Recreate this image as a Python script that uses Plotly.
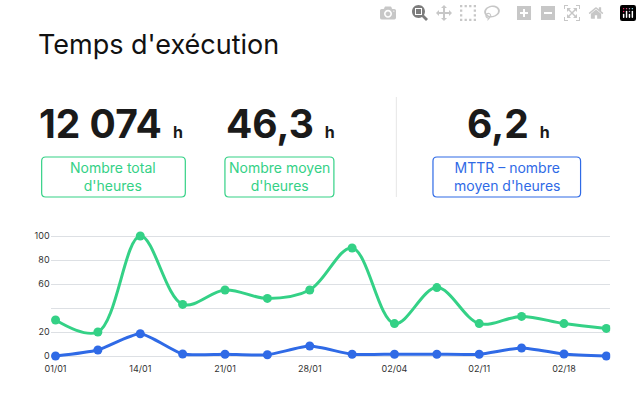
import plotly.graph_objects as go

W, H = 642, 412

points = list(range(14))
tick_pos = [0, 2, 4, 6, 8, 10, 12]
tick_labels = ["01/01", "14/01", "21/01", "28/01", "02/04", "02/11", "02/18"]
total_hours = [30, 20, 100, 43, 55, 48, 55, 90, 27, 57, 27, 33, 27, 23]
mttr_hours = [0, 5, 18.5, 1.7, 1.5, 1, 8.3, 1.5, 1.5, 1.5, 1.5, 6.7, 1.7, 0]
y_ticks = [0, 20, 40, 60, 80, 100]
y_labels = ["0", "20", "", "60", "80", "100"]

GREEN = "#34d186"
BLUE = "#2f6ae6"
FONT = "Inter"


def px(x):
    return x / W


def py(y):
    return 1 - y / H


def rounded_box(x0, x1, y0, y1, r=4):
    # path in paper coords, corners given in pixels
    pts = [f"M {px(x0 + r)},{py(y0)}", f"L {px(x1 - r)},{py(y0)}",
           f"Q {px(x1)},{py(y0)} {px(x1)},{py(y0 + r)}", f"L {px(x1)},{py(y1 - r)}",
           f"Q {px(x1)},{py(y1)} {px(x1 - r)},{py(y1)}", f"L {px(x0 + r)},{py(y1)}",
           f"Q {px(x0)},{py(y1)} {px(x0)},{py(y1 - r)}", f"L {px(x0)},{py(y0 + r)}",
           f"Q {px(x0)},{py(y0)} {px(x0 + r)},{py(y0)} Z"]
    return " ".join(pts)


fig = go.Figure()
fig.add_trace(go.Scatter(x=points, y=total_hours, mode="lines+markers",
                         line=dict(color=GREEN, width=3, shape="spline", smoothing=1.0),
                         marker=dict(size=9, color=GREEN)))
fig.add_trace(go.Scatter(x=points, y=mttr_hours, mode="lines+markers",
                         line=dict(color=BLUE, width=3, shape="spline", smoothing=0.6),
                         marker=dict(size=9, color=BLUE)))

ann = [dict(x=px(30), y=py(45), text="Temps d'exécution", font=dict(size=27, color="#111"))]
bigs = [(31, "12 074"), (220, "46,3"), (463, "6,2")]
for x0, t in bigs:
    ann.append(dict(x=px(x0), y=py(124),
                    text=f"<b>{t}</b> <span style='font-size:16px'><b>h</b></span>",
                    font=dict(size=39, color="#1a1a1a")))
boxes = [(36, 181, "Nombre total<br>d'heures", GREEN),
         (221, 331, "Nombre moyen<br>d'heures", GREEN),
         (431, 580, "MTTR – nombre<br>moyen d'heures", BLUE)]
shapes = []
for x0, x1, t, c in boxes:
    shapes.append(dict(type="path", xref="paper", yref="paper",
                       path=rounded_box(x0, x1, 157, 197),
                       line=dict(color=c, width=1.2), layer="below"))
    ann.append(dict(x=px((x0 + x1) / 2), y=py(177), xanchor="center", text=t,
                    font=dict(size=14, color=c)))
shapes.append(dict(type="line", xref="paper", yref="paper", x0=px(394), x1=px(394),
                   y0=py(97), y1=py(197), line=dict(color="#e6e6e6", width=1)))
for a in ann:
    a.update(xref="paper", yref="paper", showarrow=False)
    a.setdefault("xanchor", "left")
    a.setdefault("yanchor", "middle")

fig.update_layout(
    width=W, height=H, margin=dict(l=0, r=0, t=0, b=0),
    paper_bgcolor="white", plot_bgcolor="white", showlegend=False,
    font=dict(family=FONT), annotations=ann, shapes=shapes,
    xaxis=dict(domain=[px(45), px(610)], range=[-0.117, 13.094], tickmode="array",
               tickvals=tick_pos, ticktext=tick_labels, showgrid=False, zeroline=False,
               tickfont=dict(size=9, color="#333"), ticks=""),
    yaxis=dict(domain=[py(362), py(230)], range=[-5, 105], tickmode="array",
               tickvals=y_ticks, ticktext=y_labels, gridcolor="#dde0e4", zeroline=False,
               tickfont=dict(size=9, color="#333"), ticks=""),
)
fig.write_html("out.html", post_script="document.body.style.margin='0';")
